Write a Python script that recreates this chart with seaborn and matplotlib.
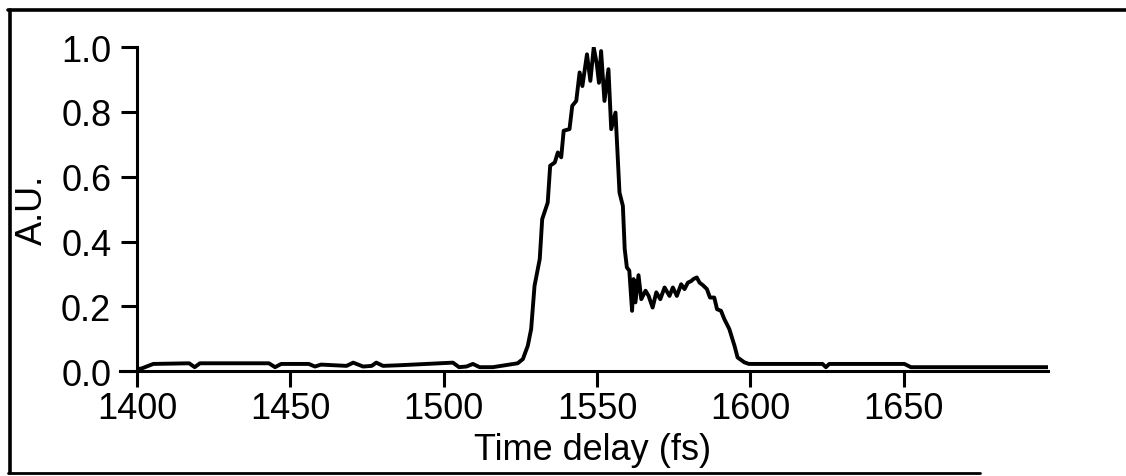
import matplotlib
matplotlib.use("Agg")
import matplotlib.pyplot as plt
from matplotlib.lines import Line2D
import seaborn as sns
import pandas as pd

# ---- data ----
time_fs = [
    1400.0, 1401.5, 1405.3, 1417.0, 1418.8, 1420.5, 1443.0, 1445.0, 1447.0,
    1456.0, 1458.0, 1460.0, 1468.3, 1470.5, 1473.7, 1476.5, 1478.0, 1480.2,
    1485.7, 1503.0, 1505.0, 1507.4, 1509.5, 1511.7, 1516.0, 1524.1,
    1525.8, 1527.4, 1528.5, 1529.6, 1531.3, 1532.1, 1533.9, 1534.7, 1536.2,
    1537.2, 1538.3, 1539.1, 1541.0, 1541.9, 1543.2, 1544.3, 1545.2, 1546.7,
    1547.8, 1548.9, 1549.9, 1550.6, 1551.3, 1552.4, 1553.7, 1554.6, 1556.0,
    1557.3, 1558.4, 1559.0, 1559.7, 1560.5, 1561.4, 1561.9, 1562.5, 1563.5,
    1564.4, 1565.8, 1566.8, 1568.1, 1569.3, 1570.6, 1572.0, 1573.6, 1574.7,
    1576.0, 1577.4, 1578.5, 1579.6, 1580.7, 1581.4, 1582.5, 1583.4, 1584.5,
    1585.8, 1586.8, 1588.2, 1589.1, 1590.4, 1591.5, 1593.1, 1594.8, 1595.8,
    1598.0, 1599.5, 1623.5, 1624.6, 1625.7, 1650.2, 1652.3, 1697.0,
]
signal_au = [
    0.006, 0.008, 0.022, 0.024, 0.012, 0.024, 0.024, 0.012, 0.022,
    0.022, 0.014, 0.020, 0.016, 0.026, 0.014, 0.016, 0.026, 0.016,
    0.018, 0.026, 0.012, 0.014, 0.022, 0.012, 0.012, 0.024,
    0.037, 0.078, 0.130, 0.263, 0.346, 0.469, 0.520, 0.634, 0.644,
    0.675, 0.660, 0.742, 0.747, 0.819, 0.834, 0.922, 0.880, 0.978,
    0.896, 0.999, 0.948, 0.890, 0.988, 0.834, 0.932, 0.747, 0.798,
    0.551, 0.510, 0.377, 0.320, 0.310, 0.186, 0.284, 0.212, 0.296,
    0.222, 0.248, 0.232, 0.196, 0.243, 0.222, 0.258, 0.232, 0.258,
    0.232, 0.268, 0.253, 0.273, 0.278, 0.284, 0.289, 0.273, 0.265,
    0.253, 0.227, 0.227, 0.191, 0.186, 0.160, 0.130, 0.078, 0.042,
    0.027, 0.022, 0.022, 0.012, 0.022, 0.022, 0.012, 0.012,
]
x_ticks = [1400, 1450, 1500, 1550, 1600, 1650]
y_ticks = [0.0, 0.2, 0.4, 0.6, 0.8, 1.0]
x_label = "Time delay (fs)"
y_label = "A.U."

df = pd.DataFrame({"t": time_fs, "v": signal_au})

sns.set_style("ticks")
plt.rcParams["font.family"] = ["Liberation Sans", "DejaVu Sans"]
plt.rcParams["text.color"] = "black"
plt.rcParams["axes.labelcolor"] = "black"
plt.rcParams["xtick.color"] = "black"
plt.rcParams["ytick.color"] = "black"

FS = 26

fig = plt.figure(figsize=(11.26, 4.77), dpi=100)
ax = fig.add_axes([0.1217, 0.220, 0.8090, 0.679])

sns.lineplot(data=df, x="t", y="v", ax=ax, color="black", linewidth=2.8,
             estimator=None, sort=False)

ax.set_xlim(1400, 1697)
ax.set_ylim(0, 1.0)
ax.set_xticks(x_ticks)
ax.set_yticks(y_ticks)
ax.set_yticklabels([f"{v:.1f}" for v in y_ticks])
ax.set_xticklabels([str(v) for v in x_ticks])
ax.set_xlabel(x_label, fontsize=FS, labelpad=4, color="black")
ax.set_ylabel(y_label, fontsize=FS, labelpad=8, color="black")
ax.tick_params(axis="both", labelsize=FS, width=2.2, length=11.5,
               color="black", labelcolor="black", direction="out")
ax.tick_params(axis="x", pad=3)
ax.tick_params(axis="y", pad=7)
for s in ["top", "right"]:
    ax.spines[s].set_visible(False)
for s in ["left", "bottom"]:
    ax.spines[s].set_linewidth(2.2)
    ax.spines[s].set_color("black")
ax.spines["bottom"].set_bounds(1394.5, 1697)

# figure frame (top, left, bottom)
W, H = 1126.0, 477.0
fig.add_artist(Line2D([8 / W, 1.0], [1 - 11 / H, 1 - 11 / H], transform=fig.transFigure,
                      color="black", linewidth=2.6))
fig.add_artist(Line2D([10 / W, 10 / W], [1 - 11 / H, 1 - 474 / H], transform=fig.transFigure,
                      color="black", linewidth=2.6))
fig.add_artist(Line2D([8 / W, 980 / W], [1 - 474 / H, 1 - 474 / H], transform=fig.transFigure,
                      color="black", linewidth=2.0))

fig.savefig("out.png", dpi=100)
